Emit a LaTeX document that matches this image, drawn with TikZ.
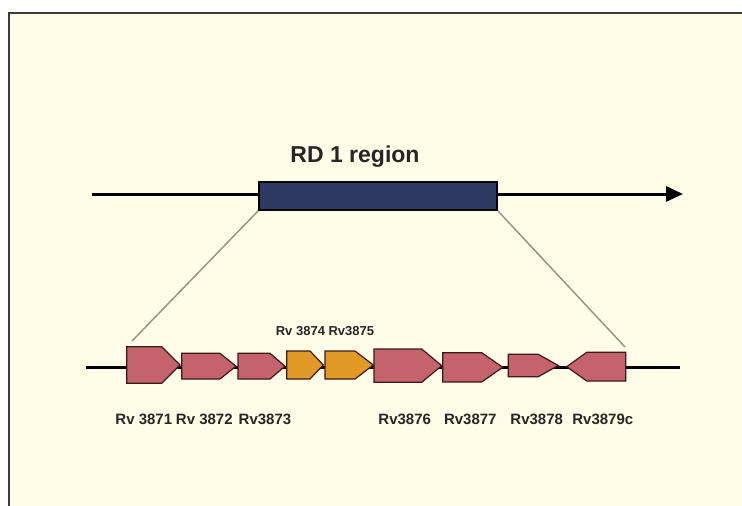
\documentclass[tikz,border=0pt]{standalone}
\usepackage{fontspec}
\setmainfont{Liberation Sans}
\usetikzlibrary{arrows.meta}
\definecolor{cream}{HTML}{FFFDE8}
\definecolor{frame}{HTML}{3A3A36}
\definecolor{rdblue}{HTML}{2E3961}
\definecolor{genepink}{HTML}{C4636B}
\definecolor{geneorange}{HTML}{E09A25}
\definecolor{geneedge}{HTML}{3B1A1A}
\definecolor{zoomline}{HTML}{9C9384}
\tikzset{
  genebox/.style={draw=geneedge, line width=1.2pt, line join=miter},
  pinkgene/.style={genebox, fill=genepink},
  orangegene/.style={genebox, fill=geneorange},
  genelabel/.style={font=\bfseries\fontsize{15}{17}\selectfont, text=black!85, inner sep=0pt},
  smalllabel/.style={font=\bfseries\fontsize{13}{15}\selectfont, text=black!85, inner sep=0pt},
  zoomlink/.style={draw=zoomline, line width=1.5pt},
  backbone/.style={draw=black, line width=3pt}
}
\begin{document}
\begin{tikzpicture}[x=1pt,y=-1pt]
\useasboundingbox (0,0) rectangle (742,506);
\clip (0,0) rectangle (742,506);
\fill[white] (0,0) rectangle (742,506);
\draw[frame, line width=1.8pt, fill=cream] (9,13) rectangle (760,530);

% top chromosome line
\coordinate (topstart) at (92,194);
\coordinate (topend) at (683,194);
\draw[backbone, -{Triangle[length=17pt,width=15pt]}] (topstart) -- (topend);
\node[draw=black, line width=2pt, fill=rdblue, minimum width=238pt, minimum height=28pt, inner sep=0pt, anchor=north west] (rd) at (258,181) {};
\node[font=\bfseries\fontsize{23}{26}\selectfont, text=black!85, inner sep=0pt] (rdlabel) at (355,157) {RD 1 region};

% gene line
\coordinate (genestart) at (86,367);
\coordinate (geneend) at (680,367);
\draw[backbone] (genestart) -- (geneend);

% zoom connectors
\coordinate (g1corner) at (132,341);
\coordinate (g9corner) at (625,347);
\draw[zoomlink] (rd.south west) -- (g1corner);
\draw[zoomlink] (rd.south east) -- (g9corner);

% genes
\draw[pinkgene] (126.7,346.7) -- (161.7,346.7) -- (180,365) -- (161.7,383.3) -- (126.7,383.3) -- cycle;
\draw[pinkgene] (181.7,353.3) -- (220,353.3) -- (236,366.2) -- (220,379) -- (181.7,379) -- cycle;
\draw[pinkgene] (238,353.3) -- (270,353.3) -- (285,366.2) -- (270,379) -- (238,379) -- cycle;
\draw[orangegene] (286.7,351) -- (310,351) -- (323.3,365) -- (310,379) -- (286.7,379) -- cycle;
\draw[orangegene] (325,351) -- (355,351) -- (373.3,365) -- (355,379) -- (325,379) -- cycle;
\draw[pinkgene] (374,349) -- (421.7,349) -- (441.7,365.7) -- (421.7,382.3) -- (374,382.3) -- cycle;
\draw[pinkgene] (442.7,352.7) -- (481.7,352.7) -- (502.7,367.3) -- (481.7,382) -- (442.7,382) -- cycle;
\draw[pinkgene] (508.3,354.3) -- (538.3,354.3) -- (558.3,365.5) -- (538.3,376.7) -- (508.3,376.7) -- cycle;
\draw[pinkgene] (625.7,352.3) -- (586.7,352.3) -- (566.7,366.7) -- (586.7,381) -- (625.7,381) -- cycle;

% labels
\node[smalllabel] (l45) at (325,331.5) {Rv 3874 Rv3875};
\node[genelabel] (l1) at (143.8,419.5) {Rv 3871};
\node[genelabel] (l2) at (204.3,419.5) {Rv 3872};
\node[genelabel] (l3) at (265,419.5) {Rv3873};
\node[genelabel] (l6) at (404.7,419.5) {Rv3876};
\node[genelabel] (l7) at (470.3,419.5) {Rv3877};
\node[genelabel] (l8) at (536.7,419.5) {Rv3878};
\node[genelabel] (l9) at (602.8,419.5) {Rv3879c};
\end{tikzpicture}
\end{document}
